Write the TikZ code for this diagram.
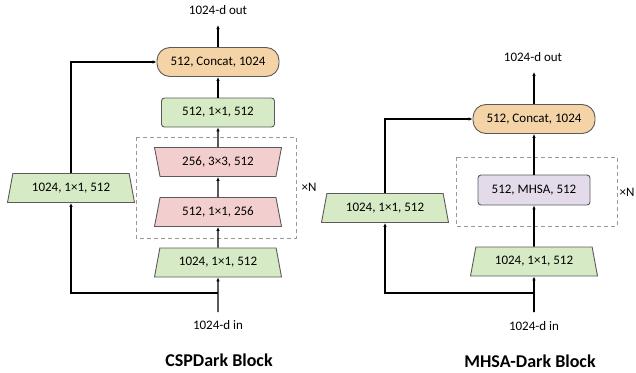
\documentclass[tikz,border=0pt]{standalone}
\usepackage{fontspec}
\setmainfont{Carlito}
\usetikzlibrary{shapes.geometric,arrows.meta}
\definecolor{convgreen}{RGB}{214,235,197}
\definecolor{convpink}{RGB}{243,206,206}
\definecolor{cattan}{RGB}{244,212,166}
\definecolor{attnlilac}{RGB}{227,219,234}
\definecolor{boxedge}{RGB}{90,90,90}
\tikzset{
  blk/.style={draw=boxedge, line width=0.9pt, font=\fontsize{13}{13}\selectfont, inner sep=0pt},
  conv/.style={blk, fill=convgreen, rounded corners=3pt, minimum width=113pt, minimum height=29pt},
  attn/.style={blk, fill=attnlilac, rounded corners=3pt, minimum width=112pt, minimum height=30pt},
  cat/.style={blk, fill=cattan, rounded corners=13pt, minimum width=122pt, minimum height=29pt},
  trap/.style={blk, trapezium, trapezium stretches body, trapezium left angle=62, trapezium right angle=62, minimum width=127pt, minimum height=29pt},
  trapup/.style={trap, fill=#1},
  trapdown/.style={trap, fill=#1, shape border rotate=180},
  rep/.style={draw=black!40, line width=1pt, dash pattern=on 4pt off 3pt},
  lbl/.style={font=\fontsize{13}{13}\selectfont, inner sep=0pt},
  ttl/.style={font=\fontsize{18}{18}\selectfont\bfseries, inner sep=0pt},
  arr/.style={line width=1.3pt, -{Latex[length=4pt,width=3.5pt]}},
  arrb/.style={line width=1.8pt, -{Latex[length=4pt,width=3.5pt]}},
}
\begin{document}
\begin{tikzpicture}[x=1pt, y=-1pt]
    \useasboundingbox (0,0) rectangle (636,372);
    \draw[rep] (136,137) rectangle (296,238);
    \draw[rep] (456,157) rectangle (617,226);
    \node[lbl] (outL) at (218,10) {1024-d out};
    \coordinate (outLa) at (218,25);
    \node[cat] (catL) at (218,62) {512, Concat, 1024};
    \node[conv] (cvL) at (218,112.5) {512, 1×1, 512};
    \node[trapdown=convpink] (tbL) at (218,162) {256, 3×3, 512};
    \node[trapup=convpink] (taL) at (218,212) {512, 1×1, 256};
    \node[trapup=convgreen] (btL) at (218,262.5) {1024, 1×1, 512};
    \node[trapup=convgreen] (sdL) at (71,188) {1024, 1×1, 512};
    \coordinate (spL) at (218,293);
    \coordinate (inLa) at (218,312);
    \node[lbl] (inL) at (218,325) {1024-d in};
    \node[lbl] (nL) at (309,187) {×N};
    \node[ttl] (tiL) at (219,360) {CSPDark Block};
    \draw[arr] (catL) -- (outLa);
    \draw[arr] (cvL) -- (catL);
    \draw[arr] (tbL) -- (cvL);
    \draw[arr] (taL) -- (tbL);
    \draw[arr] (btL) -- (taL);
    \draw[arr] (inLa) -- (btL);
    \draw[arr] (spL) -| (sdL);
    \draw[arr] (sdL) |- (catL);
    \node[lbl] (outR) at (533,57) {1024-d out};
    \coordinate (outRa) at (534,72);
    \node[cat] (catR) at (534,119) {512, Concat, 1024};
    \node[attn] (atR) at (534,190) {512, MHSA, 512};
    \node[trapup=convgreen] (btR) at (534,261.5) {1024, 1×1, 512};
    \node[trapup=convgreen] (sdR) at (385,208) {1024, 1×1, 512};
    \coordinate (spR) at (534,293);
    \coordinate (inRa) at (534,312);
    \node[lbl] (inR) at (534,326) {1024-d in};
    \node[lbl] (nR) at (627,192) {×N};
    \node[ttl] (tiR) at (530,361) {MHSA-Dark Block};
    \draw[arrb] (catR) -- (outRa);
    \draw[arrb] (atR) -- (catR);
    \draw[arrb] (btR) -- (atR);
    \draw[arrb] (inRa) -- (btR);
    \draw[arrb] (spR) -| (sdR);
    \draw[arrb] (sdR) |- (catR);
\end{tikzpicture}
\end{document}
